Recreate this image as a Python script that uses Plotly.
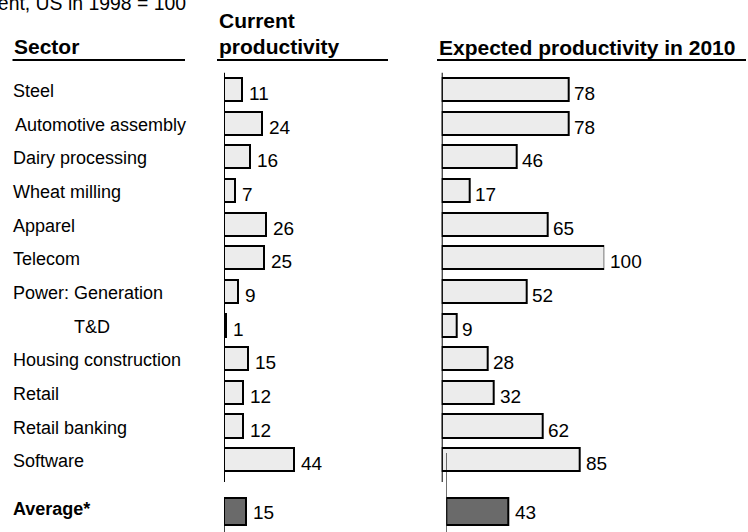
import plotly.graph_objects as go

# ---- data -------------------------------------------------------------
sectors = [
    "Steel", "Automotive assembly", "Dairy processing", "Wheat milling",
    "Apparel", "Telecom", "Power: Generation", "T&D",
    "Housing construction", "Retail", "Retail banking", "Software",
]
current = [11, 24, 16, 7, 26, 25, 9, 1, 15, 12, 12, 44]
expected_2010 = [78, 78, 46, 17, 65, 100, 52, 9, 28, 32, 62, 85]
average_label = "Average*"
average_current = 15
average_expected = 43
subtitle = "Percent, US in 1998 = 100"
headers = {"sector": "Sector", "current": ["Current", "productivity"],
           "expected": "Expected productivity in 2010"}

# ---- layout helpers -----------------------------------------------------
W, H = 748, 532
ROW0, ROW_STEP = 89.5, 33.65          # pixel centre of first row, row pitch
AVG_ROW = 12.54                        # row position of the average bar
FONT = "Liberation Sans, Arial, sans-serif"
LIGHT = "#ececec"
DARK = "#6a6a6a"


def px_x(p):
    return p / W


def px_y(p):
    return 1 - p / H


def row_of(p):
    return (p - ROW0) / ROW_STEP


rows = list(range(len(sectors)))
y_top, y_bot = row_of(0), row_of(H)

fig = go.Figure()

# sector bars
fig.add_trace(go.Bar(
    y=rows, x=current, orientation="h", width=0.685,
    marker=dict(color=LIGHT, line=dict(color="black", width=2)),
    xaxis="x", yaxis="y", hoverinfo="skip", showlegend=False,
))
fig.add_trace(go.Bar(
    y=rows, x=expected_2010, orientation="h", width=0.685,
    marker=dict(color=LIGHT, line=dict(color="black", width=2)),
    xaxis="x2", yaxis="y", hoverinfo="skip", showlegend=False,
))
# average bars
fig.add_trace(go.Bar(
    y=[AVG_ROW], x=[average_current], orientation="h", width=0.78,
    marker=dict(color=DARK, line=dict(color="black", width=2)),
    xaxis="x3", yaxis="y", hoverinfo="skip", showlegend=False,
))
fig.add_trace(go.Bar(
    y=[AVG_ROW], x=[average_expected], orientation="h", width=0.78,
    marker=dict(color=DARK, line=dict(color="black", width=2)),
    xaxis="x4", yaxis="y", hoverinfo="skip", showlegend=False,
))

hidden = dict(visible=False, range=[0, 100], fixedrange=True)
fig.update_layout(
    width=W, height=H,
    margin=dict(l=0, r=0, t=0, b=0, pad=0),
    paper_bgcolor="white", plot_bgcolor="rgba(0,0,0,0)",
    font=dict(family=FONT, color="black", size=18),
    bargap=0,
    xaxis=dict(domain=[px_x(224), px_x(224 + 160)], anchor="y", **hidden),
    xaxis2=dict(domain=[px_x(441.7), px_x(441.7 + 162.5)], anchor="y", **hidden),
    xaxis3=dict(domain=[px_x(224), px_x(224 + 146.7)], anchor="y", **hidden),
    xaxis4=dict(domain=[px_x(446.3), px_x(446.3 + 145.0)], anchor="y", **hidden),
    yaxis=dict(domain=[0, 1], range=[y_bot, y_top], visible=False, fixedrange=True),
)

ann = []

# value labels beside the bars
for r, v in zip(rows, current):
    ann.append(dict(x=v, y=r, xref="x", yref="y", text=str(v), showarrow=False,
                    xanchor="left", yanchor="middle", xshift=5, yshift=-4,
                    font=dict(size=19)))
for r, v in zip(rows, expected_2010):
    ann.append(dict(x=v, y=r, xref="x2", yref="y", text=str(v), showarrow=False,
                    xanchor="left", yanchor="middle", xshift=4, yshift=-4,
                    font=dict(size=19)))
ann.append(dict(x=average_current, y=AVG_ROW, xref="x3", yref="y",
                text=str(average_current), showarrow=False, xanchor="left",
                yanchor="middle", xshift=5, yshift=-1.5, font=dict(size=19)))
ann.append(dict(x=average_expected, y=AVG_ROW, xref="x4", yref="y",
                text=str(average_expected), showarrow=False, xanchor="left",
                yanchor="middle", xshift=4, yshift=-1.5, font=dict(size=19)))

# sector names (a few are indented)
indent = {"Automotive assembly": 13, "T&D": 72}
for r, name in zip(rows, sectors):
    ann.append(dict(x=px_x(indent.get(name, 11)), y=r, xref="paper", yref="y",
                    text=name, showarrow=False, xanchor="left", yanchor="middle",
                    yshift=-1.5, font=dict(size=18)))
ann.append(dict(x=px_x(11), y=AVG_ROW, xref="paper", yref="y",
                text="<b>%s</b>" % average_label, showarrow=False,
                xanchor="left", yanchor="middle", yshift=2.5, font=dict(size=18)))

# column headers
ann.append(dict(x=px_x(12), y=px_y(46.3), xref="paper", yref="paper",
                text="<b>%s</b>" % headers["sector"], showarrow=False,
                xanchor="left", yanchor="middle", font=dict(size=21)))
ann.append(dict(x=px_x(216.5), y=px_y(20), xref="paper", yref="paper",
                text="<b>%s</b>" % headers["current"][0], showarrow=False,
                xanchor="left", yanchor="middle", font=dict(size=21)))
ann.append(dict(x=px_x(216.5), y=px_y(46.3), xref="paper", yref="paper",
                text="<b>%s</b>" % headers["current"][1], showarrow=False,
                xanchor="left", yanchor="middle", font=dict(size=21)))
ann.append(dict(x=px_x(436.5), y=px_y(47), xref="paper", yref="paper",
                text="<b>%s</b>" % headers["expected"], showarrow=False,
                xanchor="left", yanchor="middle", font=dict(size=21)))

# unit line at the very top, running off the upper-left corner
ann.append(dict(x=px_x(188), y=px_y(2.5), xref="paper", yref="paper",
                text=subtitle, showarrow=False, xanchor="right",
                yanchor="middle", font=dict(size=19.4)))

fig.update_layout(annotations=ann)

# header underlines
shapes = []
for x0, x1 in [(12.5, 185), (217, 388), (437, 746)]:
    shapes.append(dict(type="line", xref="paper", yref="paper",
                       x0=px_x(x0), x1=px_x(x1), y0=px_y(60), y1=px_y(60),
                       line=dict(color="black", width=2)))

# value axes (zero lines)
shapes.append(dict(type="line", xref="x", yref="y", x0=0, x1=0,
                   y0=row_of(72.7), y1=row_of(482),
                   line=dict(color="black", width=2)))
shapes.append(dict(type="line", xref="x2", yref="y", x0=0, x1=0,
                   y0=row_of(72.7), y1=row_of(482),
                   line=dict(color="black", width=2)))
shapes.append(dict(type="line", xref="x3", yref="y", x0=0, x1=0,
                   y0=row_of(497), y1=y_bot,
                   line=dict(color="black", width=1.5)))
shapes.append(dict(type="line", xref="x4", yref="y", x0=0, x1=0,
                   y0=row_of(453), y1=y_bot,
                   line=dict(color="black", width=1)))
fig.update_layout(shapes=shapes)

fig.write_html("out.html")
